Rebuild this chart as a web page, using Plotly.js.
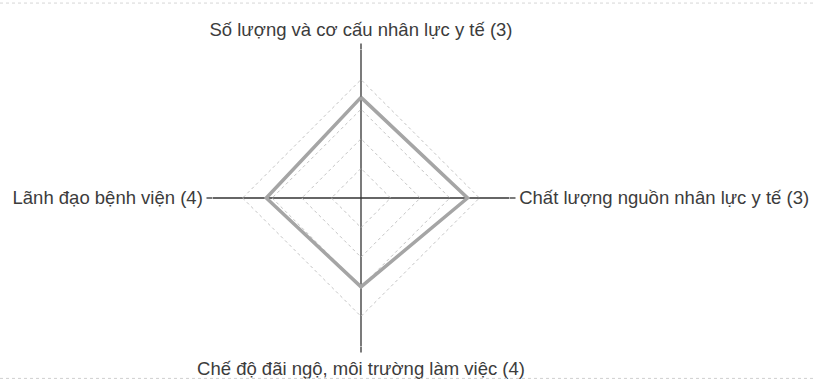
<!DOCTYPE html>
<html>
<head>
<meta charset="utf-8">
<script src="https://cdn.plot.ly/plotly-3.0.1.min.js"></script>
<style>html,body{margin:0;padding:0;background:#fff;}#chart{width:813px;height:383px;}</style>
</head>
<body>
<div id="chart"></div>
<script>
const categories = [
  "Số lượng và cơ cấu nhân lực y tế (3)",
  "Chất lượng nguồn nhân lực y tế (3)",
  "Chế độ đãi ngộ, môi trường làm việc (4)",
  "Lãnh đạo bệnh viện (4)"
];
const values = [3.4, 3.6, 3.0, 3.2];
const radialMax = 5;

const trace = {
  type: 'scatterpolar',
  r: values.concat([values[0]]),
  theta: categories.concat([categories[0]]),
  mode: 'lines',
  line: {color: '#a5a5a5', width: 3.5},
  fill: 'none',
  hoverinfo: 'skip',
  showlegend: false
};

const R = 148;
const cx = 361, cyFromBottom = 383 - 198;

const layout = {
  width: 813, height: 383,
  margin: {l: 0, r: 0, t: 0, b: 0},
  paper_bgcolor: '#ffffff',
  font: {family: 'Liberation Sans, Arial, sans-serif', size: 18.5, color: '#3c3c3c'},
  polar: {
    domain: {x: [(cx - R) / 813, (cx + R) / 813], y: [(cyFromBottom - R) / 383, (cyFromBottom + R) / 383]},
    bgcolor: 'rgba(0,0,0,0)',
    gridshape: 'linear',
    angularaxis: {
      direction: 'clockwise',
      rotation: 90,
      showline: false,
      showgrid: true,
      gridcolor: '#333333',
      gridwidth: 1.3,
      ticks: 'outside',
      ticklen: 6,
      tickwidth: 1.3,
      tickcolor: '#333333',
      tickfont: {family: 'Liberation Sans, Arial, sans-serif', size: 18.5, color: '#3c3c3c'}
    },
    radialaxis: {
      range: [0, radialMax],
      dtick: 1,
      showline: false,
      showticklabels: false,
      ticks: '',
      gridcolor: '#c4c4c4',
      gridwidth: 1,
      griddash: 'dot'
    }
  },
  shapes: [
    {type: 'line', xref: 'paper', yref: 'paper', x0: 0, x1: 1, y0: 0.992, y1: 0.992, line: {color: '#d6d6d6', width: 1, dash: 'dot'}},
    {type: 'line', xref: 'paper', yref: 'paper', x0: 0, x1: 1, y0: 0.012, y1: 0.012, line: {color: '#cfcfcf', width: 1, dash: 'dot'}}
  ]
};

Plotly.newPlot('chart', [trace], layout, {staticPlot: true, displayModeBar: false});
</script>
</body>
</html>
